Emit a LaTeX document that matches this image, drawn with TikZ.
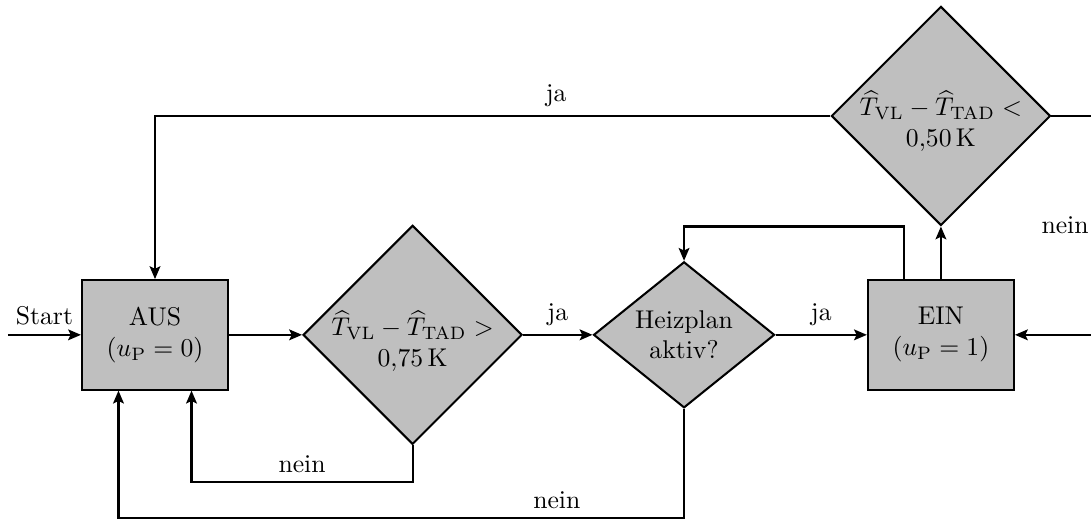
\documentclass[tikz,border=0pt]{standalone}
\usepackage{xcolor}
\usepackage{amsmath}
\usepackage{amssymb}
\usepackage{tikz}
\usetikzlibrary{shapes.geometric, arrows.meta, positioning}

\begin{document}
\begin{tikzpicture}[node distance=1cm, auto]
    \tikzstyle{state} = [rectangle, minimum width=2cm, minimum height=1.5cm, text centered, align=center, draw=black, thick, fill=lightgray]
    \tikzstyle{decision} = [diamond, inner sep=0pt, minimum width=3cm, minimum height=3cm, draw=black, thick, fill=lightgray]
    \tikzstyle{arrow} = [thick,->,>={Stealth[length=5pt,width=4.2pt,inset=1pt]}]

    \useasboundingbox (-2.123,-2.51) rectangle (12.82,4.586);

    \node (aus) [state] {AUS\\$(u_\mathrm{P}=0)$};
    \node (d1) [decision, right=of aus, label={[align=center, yshift=-2.5pt]center:{$\widehat{T}_\mathrm{VL}-\widehat{T}_\mathrm{TAD}>$\\$0{,}75\,\mathrm{K}$}}] {};
    \node (d2) [decision, right=0.95cm of d1, minimum width=2.48cm, minimum height=2cm, label={[align=center]center:{Heizplan\\aktiv?}}] {};
    \node (ein) [state, right=1.25cm of d2] {EIN\\$(u_\mathrm{P}=1)$};
    \node (d3) [decision, above=0.72cm of ein, label={[align=center, yshift=-2pt]center:{$\widehat{T}_\mathrm{VL}-\widehat{T}_\mathrm{TAD}<$\\$0{,}50\,\mathrm{K}$}}] {};

    \coordinate [left=of aus] (start);
    \coordinate [right=0.64cm of d3] (back);

    \draw [arrow] (start) -- node[above] {Start} (aus);
    \draw [arrow] (aus) -- (d1);
    \draw [arrow] (d1) -- node[above] {ja} (d2);
    \draw [arrow] (d2) -- node[above] {ja} (ein);
    \draw [arrow] (ein) -- (d3);
    \draw [arrow] ([xshift=-5mm]ein.north) |- (d3.south -| d2.north) -- (d2.north);
    \draw [arrow] (d3) -| node[pos=0.203, above] {ja} (aus);
    \draw [arrow] (d3.east) -- (back) |- node[pos=0.25, left] {nein} (ein.east);
    \draw [arrow] (d1.south) -- ++(0,-0.5) -| node[pos=0.25, above] {nein} ([xshift=5mm]aus.south);
    \draw [arrow] (d2.south) -- ++(0,-1.5) -| node[pos=0.1125, above] {nein} ([xshift=-5mm]aus.south);
\end{tikzpicture}
\end{document}
